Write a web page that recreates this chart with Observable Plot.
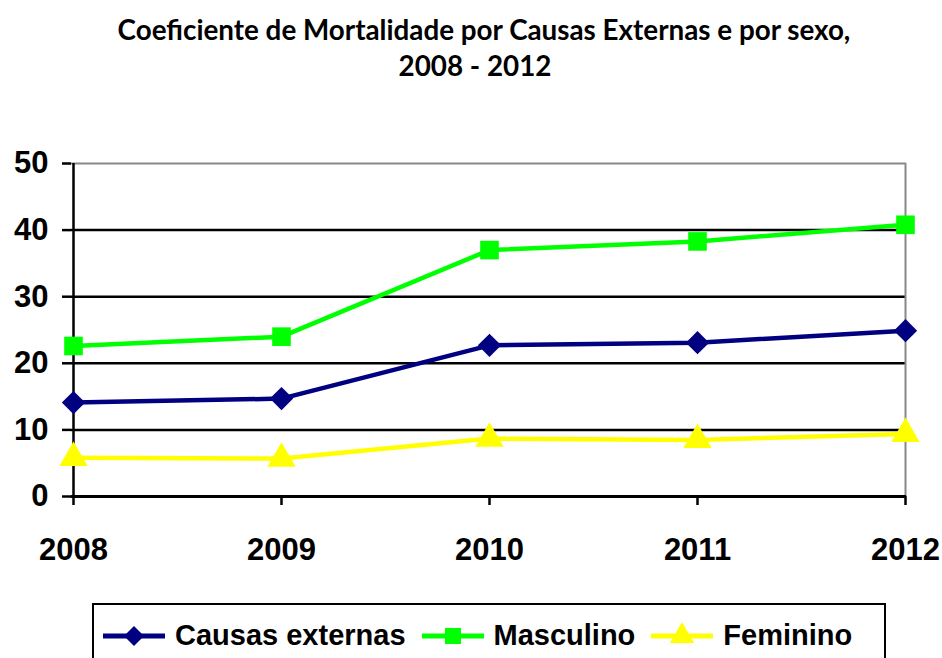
<!DOCTYPE html>
<html><head><meta charset="utf-8">
<script src="https://cdn.jsdelivr.net/npm/d3@7"></script>
<script src="https://cdn.jsdelivr.net/npm/@observablehq/plot@0.6"></script>
<style>
html,body{margin:0;padding:0;background:#fff;width:942px;height:658px;overflow:hidden;position:relative;}
#title{position:absolute;left:4px;width:942px;top:12px;text-align:center;font-family:Lato,sans-serif;font-weight:bold;font-size:27.8px;line-height:36px;color:#000;}
#title .l1{position:relative;left:9px;}
#chart{position:absolute;left:0;top:100px;}
#legend{position:absolute;left:92px;top:603px;width:794px;height:70px;border:2px solid #000;box-sizing:border-box;display:flex;align-items:flex-start;padding-top:14px;padding-left:9px;font-family:"Liberation Sans",sans-serif;font-weight:bold;font-size:29px;}
.item{display:flex;align-items:center;margin-right:16px;}
.item svg{margin-right:10px;}
</style></head>
<body>
<div id="title"><span class="l1">Coeficiente de Mortalidade por Causas Externas e por sexo,</span><br>2008 - 2012</div>
<div id="chart"></div>
<div id="legend"></div>
<script>
const years = [2008, 2009, 2010, 2011, 2012];
const seriesNames = ["Causas externas", "Masculino", "Feminino"];
const causasExternas = [14.1, 14.7, 22.7, 23.1, 24.9];
const masculino = [22.6, 24.0, 37.0, 38.3, 40.8];
const feminino = [5.8, 5.7, 8.7, 8.5, 9.4];
const colors = ["#000080", "#00FF00", "#FFFF00"];
const symbols = ["diamond2", "square", "triangle"];
const yTicks = [0, 10, 20, 30, 40, 50];

const valuesBySeries = [causasExternas, masculino, feminino];
const data = [];
seriesNames.forEach((s, i) => years.forEach((y, j) => data.push({series: s, year: y, value: valuesBySeries[i][j]})));

const chart = Plot.plot({
  width: 942,
  height: 476,
  marginLeft: 71,
  marginRight: 36,
  marginTop: 63,
  marginBottom: 80,
  style: {fontFamily: "'Liberation Sans', sans-serif", fontWeight: "bold", fontSize: "31px", color: "#000", background: "#fff"},
  x: {type: "point", domain: years, padding: 0, label: null},
  y: {domain: [0, 50], label: null},
  color: {domain: seriesNames, range: colors},
  symbol: {domain: seriesNames, range: symbols},
  marks: [
    Plot.ruleY([10, 20, 30, 40], {stroke: "#000", strokeWidth: 2.5}),
    Plot.ruleY([50], {stroke: "#888", strokeWidth: 2}),
    Plot.ruleX([2012], {stroke: "#888", strokeWidth: 2}),
    Plot.axisY({ticks: yTicks, tickSize: 9, tickPadding: 14, tickFormat: d => String(d), stroke: "#000", strokeWidth: 2.5, strokeOpacity: 1}),
    Plot.axisX({ticks: years, tickSize: 9, tickPadding: 32, tickFormat: d => String(d), stroke: "#000", strokeWidth: 2.5, strokeOpacity: 1}),
    Plot.ruleX([2008], {stroke: "#000", strokeWidth: 2.5}),
    Plot.ruleY([0], {stroke: "#000", strokeWidth: 3}),
    Plot.line(data, {x: "year", y: "value", z: "series", stroke: "series", strokeWidth: 4.5}),
    Plot.dot(data, {x: "year", y: "value", symbol: "series", fill: "series", stroke: null, r: 10.5})
  ]
});
document.getElementById("chart").appendChild(chart);

// legend
const legend = document.getElementById("legend");
seriesNames.forEach((s, i) => {
  const item = document.createElement("div");
  item.className = "item";
  const sym = d3.symbol().type([d3.symbolDiamond2, d3.symbolSquare, d3.symbolTriangle][i]).size(Math.PI * 9 * 9)();
  item.innerHTML = `<svg width="62" height="30" viewBox="-31 -15 62 30"><line x1="-31" x2="31" y1="0" y2="0" stroke="${colors[i]}" stroke-width="5"/><path d="${sym}" fill="${colors[i]}"/></svg><span>${s}</span>`;
  legend.appendChild(item);
});
</script>
</body></html>
